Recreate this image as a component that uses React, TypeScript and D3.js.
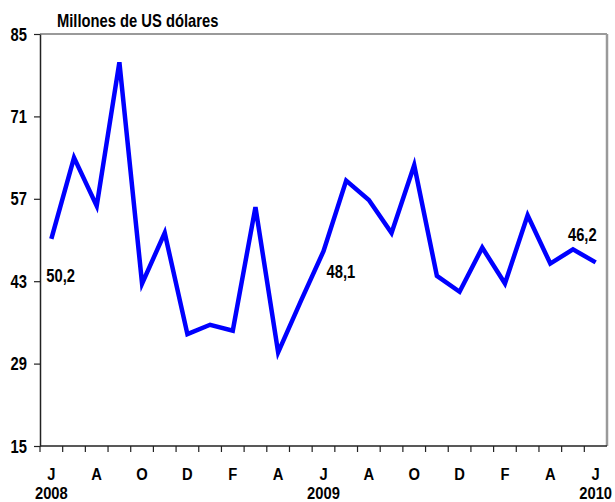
import { useEffect, useRef } from "react"
import * as d3 from "d3"

// Monthly values, Jun 2008 - Jun 2010 (millones de US dólares)
const months = ["J", "J", "A", "S", "O", "N", "D", "J", "F", "M", "A", "M", "J", "J", "A", "S", "O", "N", "D", "J", "F", "M", "A", "M", "J"]
const values = [50.2, 64.0, 55.8, 80.2, 42.6, 51.2, 34.0, 35.6, 34.6, 55.6, 30.9, 39.6, 48.1, 60.1, 56.8, 51.2, 62.7, 43.9, 41.2, 48.7, 42.6, 54.2, 46.0, 48.4, 46.2]
const yTicks = [15, 29, 43, 57, 71, 85]
const years = ["2008", "2009", "2010"]
const yearIndex = [0, 12, 24]
const labelIndex = [0, 12, 24]
const labelText = ["50,2", "48,1", "46,2"]

const FONT = "'Liberation Sans', Arial, sans-serif"

// narrow bold text (mimics Arial Narrow Bold)
const narrow = (
  g: d3.Selection<any, any, any, any>,
  x: number,
  y: number,
  str: string,
  anchor = "start",
  size = 18
) =>
  g
    .append("text")
    .attr("transform", `translate(${x},${y}) scale(${(0.82 * 18) / size},1)`)
    .attr("text-anchor", anchor)
    .attr("font-family", FONT)
    .attr("font-size", size)
    .attr("font-weight", "bold")
    .attr("fill", "#000")
    .text(str)

const App = () => {
  const svgRef = useRef<SVGSVGElement>(null)

  useEffect(() => {
    if (!svgRef.current) return
    const svg = d3.select(svgRef.current)
    svg.selectAll("*").remove()

    const width = 615
    const height = 502
    const left = 40
    const right = 607
    const top = 34
    const bottom = 446

    const x = d3
      .scaleBand<number>()
      .domain(d3.range(values.length))
      .range([left, right])
      .padding(0)
    const y = d3.scaleLinear().domain([15, 85]).range([bottom, top])
    const cx = (i: number) => (x(i) || 0) + x.bandwidth() / 2

    svg.attr("width", width).attr("height", height)

    // frame: grey top/right, dark left/bottom
    svg.append("line").attr("x1", left).attr("x2", right).attr("y1", top).attr("y2", top)
      .attr("stroke", "#9a9a9a").attr("stroke-width", 2)
    svg.append("line").attr("x1", right).attr("x2", right).attr("y1", top).attr("y2", bottom)
      .attr("stroke", "#9a9a9a").attr("stroke-width", 2.5)

    // y axis
    const yAxis = svg.append("g").attr("transform", `translate(${left},0)`)
      .call(d3.axisLeft(y).tickValues(yTicks).tickSize(6).tickSizeOuter(0).tickFormat(() => ""))
    yAxis.select(".domain").attr("stroke", "#222").attr("stroke-width", 1.5)
    yAxis.selectAll(".tick line").attr("stroke", "#222").attr("stroke-width", 1.2)
    yTicks.forEach((t) => {
      narrow(svg, 27, y(t) + 6.5, String(t), "end")
    })

    // x axis: ticks on band boundaries
    const xAxis = svg.append("g").attr("transform", `translate(0,${bottom})`)
    xAxis.append("line").attr("x1", left).attr("x2", right).attr("y1", 0).attr("y2", 0)
      .attr("stroke", "#222").attr("stroke-width", 1.5)
    xAxis.selectAll(".xt")
      .data(d3.range(values.length))
      .join("line")
      .attr("class", "xt")
      .attr("x1", (i) => x(i) || 0)
      .attr("x2", (i) => x(i) || 0)
      .attr("y1", 0)
      .attr("y2", 6)
      .attr("stroke", "#222")
      .attr("stroke-width", 1.2)
    d3.range(values.length)
      .filter((i) => i % 2 === 0)
      .forEach((i) => narrow(xAxis, cx(i), 33.5, months[i], "middle", 17))
    years.forEach((yr, k) => narrow(xAxis, cx(yearIndex[k]), 52.6, yr, "middle", 17))

    // title
    narrow(svg, 57, 27, "Millones de US dólares")

    // line
    const line = d3.line<number>().x((d, i) => cx(i)).y((d) => y(d))
    svg.append("path").datum(values).attr("d", line)
      .attr("fill", "none").attr("stroke", "#0000ff").attr("stroke-width", 4.5)
      .attr("stroke-linejoin", "miter")

    // value labels
    const offsets = [
      { dx: -5, dy: 43, anchor: "start" },
      { dx: 3, dy: 27, anchor: "start" },
      { dx: 1, dy: -21, anchor: "end" },
    ]
    labelIndex.forEach((idx, k) => {
      narrow(svg, cx(idx) + offsets[k].dx, y(values[idx]) + offsets[k].dy, labelText[k], offsets[k].anchor)
    })
  }, [])

  return <svg ref={svgRef} style={{ position: "absolute", left: 0, top: 0 }} />
}

export default App
